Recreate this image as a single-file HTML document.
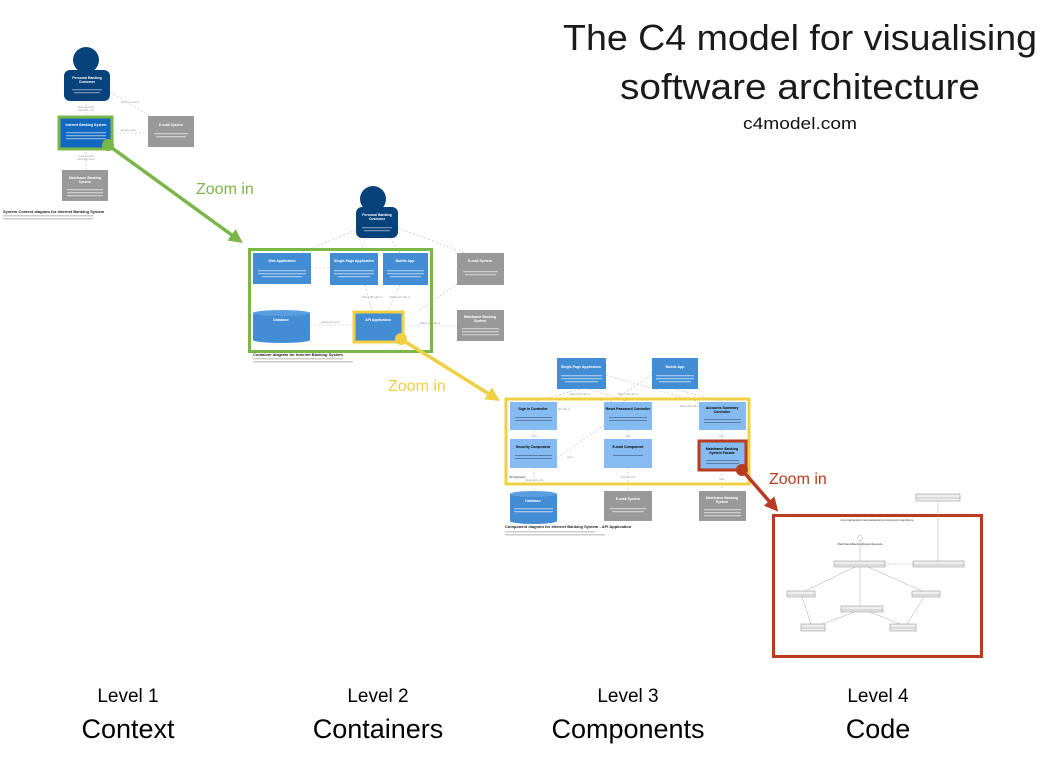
<!DOCTYPE html>
<html><head><meta charset="utf-8"><style>
html,body{margin:0;padding:0;background:#fff;}
svg{display:block;font-family:"Liberation Sans",sans-serif;}
</style></head><body>
<svg width="1061" height="774" viewBox="0 0 1061 774" xmlns="http://www.w3.org/2000/svg">
<defs>
<marker id="ag" markerWidth="4" markerHeight="4" refX="3" refY="2" orient="auto" markerUnits="strokeWidth"><path d="M0,0 L4,2 L0,4 z" fill="#7ab648"/></marker>
<marker id="ay" markerWidth="4" markerHeight="4" refX="3" refY="2" orient="auto" markerUnits="strokeWidth"><path d="M0,0 L4,2 L0,4 z" fill="#f0d043"/></marker>
<marker id="ar" markerWidth="4" markerHeight="4" refX="3" refY="2" orient="auto" markerUnits="strokeWidth"><path d="M0,0 L4,2 L0,4 z" fill="#b83b22"/></marker>
</defs>
<text x="800" y="50" font-size="36" text-anchor="middle" textLength="474" lengthAdjust="spacingAndGlyphs" fill="#1a1a1a">The C4 model for visualising</text>
<text x="800" y="99" font-size="36" text-anchor="middle" textLength="360" lengthAdjust="spacingAndGlyphs" fill="#1a1a1a">software architecture</text>
<text x="800" y="129" font-size="17" text-anchor="middle" textLength="114" lengthAdjust="spacingAndGlyphs" fill="#111">c4model.com</text>

<g stroke="#bbb" stroke-width="0.6" stroke-dasharray="2,2" fill="none">
<line x1="86" y1="100" x2="86" y2="118"/><line x1="110" y1="92" x2="150" y2="116"/><line x1="111" y1="133" x2="148" y2="133"/><line x1="86" y1="148" x2="86" y2="170"/>
<line x1="356" y1="230" x2="300" y2="253"/><line x1="366" y1="238" x2="360" y2="253"/><line x1="390" y1="238" x2="400" y2="253"/><line x1="398" y1="228" x2="465" y2="253"/>
<line x1="311" y1="268" x2="330" y2="268"/><line x1="365" y1="285" x2="372" y2="312"/><line x1="400" y1="285" x2="388" y2="312"/><line x1="310" y1="325" x2="354" y2="325"/><line x1="403" y1="326" x2="457" y2="326"/><line x1="420" y1="310" x2="460" y2="282"/>
<line x1="580" y1="389" x2="534" y2="402"/><line x1="590" y1="389" x2="628" y2="402"/><line x1="606" y1="375" x2="699" y2="402"/><line x1="652" y1="375" x2="610" y2="402"/><line x1="675" y1="389" x2="722" y2="402"/>
<line x1="534" y1="430" x2="534" y2="439"/><line x1="628" y1="430" x2="628" y2="439"/><line x1="722" y1="430" x2="722" y2="441"/><line x1="557" y1="458" x2="604" y2="425"/>
<line x1="534" y1="468" x2="534" y2="491"/><line x1="628" y1="468" x2="628" y2="491"/><line x1="722" y1="470" x2="722" y2="491"/>
</g>
<g fill="#999" font-size="2.5" text-anchor="middle">
<text x="86" y="108">Views account</text><text x="86" y="111">balances, and</text><text x="130" y="103">Sends e-mails to</text><text x="128" y="131">Sends e-mail</text>
<text x="86" y="157">Gets account</text><text x="86" y="160">information from</text>
<text x="295" y="268">Delivers to the</text><text x="372" y="298">Makes API calls to</text><text x="400" y="298">Makes API calls to</text><text x="330" y="323">Reads from and</text><text x="430" y="324">Makes API calls to</text>
<text x="560" y="410">Makes API calls to</text><text x="580" y="395">Makes API calls to</text><text x="628" y="395">Makes API calls to</text><text x="690" y="407">Makes API calls to</text>
<text x="534" y="437">Uses</text><text x="628" y="437">Uses</text><text x="722" y="437">Uses</text><text x="570" y="458">Uses</text><text x="628" y="478">Sends e-mail</text><text x="534" y="481">Reads from and</text><text x="722" y="480">Uses</text>
</g>

<rect x="0" y="0" width="0" height="0"/>
<circle cx="86" cy="60" r="13" fill="#08427b"/>
<rect x="64" y="70" width="46" height="31" rx="6" fill="#08427b"/>
<text x="87" y="79" font-size="3.5" fill="#fff" text-anchor="middle" font-weight="bold">Personal Banking</text>
<text x="87" y="83" font-size="3.5" fill="#fff" text-anchor="middle" font-weight="bold">Customer</text>
<rect x="72" y="89" width="30" height="1.3" fill="#6f8fb5"/><rect x="74" y="92" width="26" height="1.3" fill="#6f8fb5"/>
<rect x="59" y="117" width="53" height="32" fill="#1168bd" stroke="#7ab648" stroke-width="3"/>
<text x="86" y="126" font-size="3.5" fill="#fff" text-anchor="middle" font-weight="bold">Internet Banking System</text>
<rect x="66" y="132" width="40" height="1.3" fill="#7fb0e5"/><rect x="66" y="135" width="40" height="1.3" fill="#7fb0e5"/><rect x="66" y="138" width="40" height="1.3" fill="#7fb0e5"/>
<rect x="148" y="116" width="46" height="31" fill="#999"/>
<text x="171" y="126" font-size="3.5" fill="#fff" text-anchor="middle" font-weight="bold">E-mail System</text>
<rect x="154" y="133" width="34" height="1.3" fill="#ccc"/><rect x="156" y="136" width="30" height="1.3" fill="#ccc"/>
<rect x="62" y="170" width="46" height="31" fill="#999"/>
<text x="85" y="179" font-size="3.5" fill="#fff" text-anchor="middle" font-weight="bold">Mainframe Banking</text>
<text x="85" y="183" font-size="3.5" fill="#fff" text-anchor="middle" font-weight="bold">System</text>
<rect x="67" y="189" width="36" height="1.3" fill="#ccc"/><rect x="67" y="192" width="36" height="1.3" fill="#ccc"/><rect x="67" y="195" width="36" height="1.3" fill="#ccc"/>
<text x="3" y="213" font-size="4" fill="#222" font-weight="bold">System Context diagram for Internet Banking System</text>
<rect x="3" y="215" width="90" height="1.5" fill="#ccc"/><rect x="3" y="218" width="90" height="1.5" fill="#ccc"/>

<circle cx="373" cy="199" r="13" fill="#08427b"/>
<rect x="356" y="207" width="42" height="31" rx="6" fill="#08427b"/>
<text x="377" y="216" font-size="3.5" fill="#fff" text-anchor="middle" font-weight="bold">Personal Banking</text>
<text x="377" y="220" font-size="3.5" fill="#fff" text-anchor="middle" font-weight="bold">Customer</text>
<rect x="362" y="227" width="30" height="1.3" fill="#6f8fb5"/><rect x="364" y="230" width="26" height="1.3" fill="#6f8fb5"/>
<rect x="249.5" y="249.5" width="182" height="102" fill="none" stroke="#7ab648" stroke-width="3"/>
<rect x="253" y="253" width="58" height="31" fill="#438dd5"/>
<rect x="330" y="253" width="48" height="32" fill="#438dd5"/>
<rect x="383" y="253" width="45" height="32" fill="#438dd5"/>
<text x="282" y="262" font-size="3.5" fill="#fff" text-anchor="middle" font-weight="bold">Web Application</text>
<text x="354" y="262" font-size="3.5" fill="#fff" text-anchor="middle" font-weight="bold">Single-Page Application</text>
<text x="405" y="262" font-size="3.5" fill="#fff" text-anchor="middle" font-weight="bold">Mobile App</text>
<g fill="#9cc4ec">
<rect x="258" y="270" width="48" height="1.3"/><rect x="258" y="273" width="48" height="1.3"/><rect x="262" y="276" width="40" height="1.3"/>
<rect x="334" y="270" width="40" height="1.3"/><rect x="334" y="273" width="40" height="1.3"/><rect x="338" y="276" width="32" height="1.3"/>
<rect x="387" y="270" width="37" height="1.3"/><rect x="387" y="273" width="37" height="1.3"/><rect x="390" y="276" width="31" height="1.3"/>
<rect x="258" y="328" width="46" height="1.3"/><rect x="258" y="331" width="46" height="1.3"/><rect x="262" y="334" width="38" height="1.3"/>
<rect x="359" y="329" width="39" height="1.3"/><rect x="359" y="332" width="39" height="1.3"/>
</g>
<rect x="457" y="253" width="47" height="32" fill="#999"/>
<text x="480" y="262" font-size="3.5" fill="#fff" text-anchor="middle" font-weight="bold">E-mail System</text>
<rect x="463" y="271" width="35" height="1.3" fill="#ccc"/><rect x="465" y="274" width="31" height="1.3" fill="#ccc"/>
<rect x="253" y="313" width="57" height="27" fill="#438dd5"/>
<ellipse cx="281.5" cy="313" rx="28.5" ry="3" fill="#5a9de0"/>
<ellipse cx="281.5" cy="340" rx="28.5" ry="3" fill="#438dd5"/>
<text x="281" y="321" font-size="3.5" fill="#fff" text-anchor="middle" font-weight="bold">Database</text>
<rect x="354" y="312" width="49" height="30" fill="#438dd5" stroke="#f0d043" stroke-width="3"/>
<text x="378" y="321" font-size="3.5" fill="#fff" text-anchor="middle" font-weight="bold">API Application</text>
<rect x="457" y="310" width="47" height="31" fill="#999"/>
<text x="480" y="318" font-size="3.5" fill="#fff" text-anchor="middle" font-weight="bold">Mainframe Banking</text>
<text x="480" y="322" font-size="3.5" fill="#fff" text-anchor="middle" font-weight="bold">System</text>
<rect x="462" y="328" width="37" height="1.3" fill="#ccc"/><rect x="462" y="331" width="37" height="1.3" fill="#ccc"/><rect x="462" y="334" width="37" height="1.3" fill="#ccc"/>
<text x="253" y="356" font-size="4" fill="#222" font-weight="bold">Container diagram for Internet Banking System</text>
<rect x="253" y="358" width="90" height="1.5" fill="#ccc"/><rect x="253" y="361" width="100" height="1.5" fill="#ccc"/>

<rect x="557" y="358" width="49" height="31" fill="#438dd5"/>
<rect x="652" y="358" width="46" height="31" fill="#438dd5"/>
<text x="581" y="368" font-size="3.5" fill="#fff" text-anchor="middle" font-weight="bold">Single-Page Application</text>
<text x="675" y="368" font-size="3.5" fill="#fff" text-anchor="middle" font-weight="bold">Mobile App</text>
<g fill="#9cc4ec">
<rect x="561" y="375" width="41" height="1.3"/><rect x="561" y="378" width="41" height="1.3"/><rect x="565" y="381" width="33" height="1.3"/>
<rect x="656" y="375" width="38" height="1.3"/><rect x="656" y="378" width="38" height="1.3"/><rect x="659" y="381" width="32" height="1.3"/>
</g>
<rect x="506" y="399" width="243" height="85" fill="none" stroke="#f0d043" stroke-width="3"/>
<g fill="#85bbf0">
<rect x="510" y="402" width="47" height="28"/><rect x="604" y="402" width="48" height="28"/><rect x="699" y="402" width="47" height="28"/>
<rect x="510" y="439" width="47" height="29"/><rect x="604" y="439" width="48" height="29"/>
</g>
<rect x="699" y="441" width="47" height="29" fill="#85bbf0" stroke="#b83b22" stroke-width="3"/>
<g font-size="3.5" fill="#000" text-anchor="middle" font-weight="bold">
<text x="533" y="410">Sign In Controller</text><text x="628" y="410">Reset Password Controller</text><text x="722" y="409">Accounts Summary</text><text x="722" y="413">Controller</text>
<text x="533" y="448">Security Component</text><text x="628" y="448">E-mail Component</text><text x="722" y="450">Mainframe Banking</text><text x="722" y="454">System Facade</text>
</g>
<g fill="#5a7fa8">
<rect x="515" y="417" width="37" height="1"/><rect x="515" y="420" width="37" height="1"/>
<rect x="609" y="417" width="38" height="1"/><rect x="609" y="420" width="38" height="1"/>
<rect x="704" y="419" width="37" height="1"/><rect x="704" y="422" width="37" height="1"/>
<rect x="515" y="455" width="37" height="1"/><rect x="515" y="458" width="37" height="1"/>
<rect x="613" y="455" width="30" height="1"/>
<rect x="706" y="460" width="33" height="1"/><rect x="706" y="463" width="33" height="1"/>
</g>
<text x="509" y="478" font-size="2.5" fill="#333">API Application</text>
<rect x="510" y="494" width="47" height="27" fill="#438dd5"/>
<ellipse cx="533.5" cy="494" rx="23.5" ry="3" fill="#5a9de0"/>
<ellipse cx="533.5" cy="521" rx="23.5" ry="3" fill="#438dd5"/>
<text x="533" y="502" font-size="3.5" fill="#fff" text-anchor="middle" font-weight="bold">Database</text>
<rect x="514" y="508" width="39" height="1.3" fill="#9cc4ec"/><rect x="514" y="511" width="39" height="1.3" fill="#9cc4ec"/>
<rect x="604" y="491" width="48" height="30" fill="#999"/>
<rect x="699" y="491" width="47" height="30" fill="#999"/>
<text x="628" y="500" font-size="3.5" fill="#fff" text-anchor="middle" font-weight="bold">E-mail System</text>
<text x="722" y="499" font-size="3.5" fill="#fff" text-anchor="middle" font-weight="bold">Mainframe Banking</text>
<text x="722" y="503" font-size="3.5" fill="#fff" text-anchor="middle" font-weight="bold">System</text>
<rect x="610" y="508" width="36" height="1.3" fill="#ccc"/><rect x="612" y="511" width="32" height="1.3" fill="#ccc"/>
<rect x="704" y="509" width="37" height="1.3" fill="#ccc"/><rect x="704" y="512" width="37" height="1.3" fill="#ccc"/><rect x="704" y="515" width="37" height="1.3" fill="#ccc"/>
<text x="505" y="528" font-size="4" fill="#222" font-weight="bold">Component diagram for Internet Banking System - API Application</text>
<rect x="505" y="531" width="90" height="1.5" fill="#ccc"/><rect x="505" y="534" width="100" height="1.5" fill="#ccc"/>

<rect x="773.5" y="515.5" width="208" height="141" fill="#fff" stroke="#b83b22" stroke-width="3"/>
<g stroke="#aaa" stroke-width="0.5" fill="none">
<line x1="938" y1="501" x2="938" y2="561"/><line x1="860" y1="540" x2="860" y2="606"/>
<line x1="855" y1="567" x2="805" y2="591"/><line x1="868" y1="567" x2="922" y2="591"/>
<line x1="885" y1="564" x2="913" y2="564" stroke-dasharray="2,1"/>
<line x1="802" y1="597" x2="811" y2="624"/><line x1="924" y1="597" x2="907" y2="624"/>
<line x1="855" y1="612" x2="822" y2="624"/><line x1="870" y1="612" x2="900" y2="624"/>
<circle cx="860" cy="538" r="2.5" fill="#fff"/>
</g>
<g fill="#eee" stroke="#888" stroke-width="0.5">
<rect x="916" y="494" width="44" height="7"/>
<rect x="834" y="561" width="51" height="6"/>
<rect x="913" y="561" width="51" height="6"/>
<rect x="787" y="591" width="28" height="6"/>
<rect x="912" y="591" width="28" height="6"/>
<rect x="841" y="606" width="42" height="6"/>
<rect x="801" y="624" width="24" height="7"/>
<rect x="890" y="624" width="26" height="7"/>
</g>
<g stroke="#888" stroke-width="0.4">
<line x1="916" y1="498" x2="960" y2="498"/><line x1="834" y1="565" x2="885" y2="565"/><line x1="913" y1="565" x2="964" y2="565"/>
<line x1="787" y1="595" x2="815" y2="595"/><line x1="912" y1="595" x2="940" y2="595"/><line x1="841" y1="610" x2="883" y2="610"/>
<line x1="801" y1="628" x2="825" y2="628"/><line x1="890" y1="628" x2="916" y2="628"/>
</g>
<text x="877" y="521" font-size="3" fill="#333" text-anchor="middle">com.bigbankplc.internetbanking.component.mainframe</text>
<text x="860" y="545" font-size="3" fill="#333" text-anchor="middle">MainframeBankingSystemFacade</text>

<line x1="108" y1="145" x2="240" y2="241" stroke="#7ab648" stroke-width="3.5" marker-end="url(#ag)"/>
<circle cx="108" cy="145" r="6" fill="#7ab648"/>
<text x="196" y="194" font-size="16" fill="#7ab648">Zoom in</text>
<line x1="401" y1="339" x2="497" y2="399" stroke="#f0d043" stroke-width="3.5" marker-end="url(#ay)"/>
<circle cx="401" cy="339" r="6" fill="#f0d043"/>
<text x="388" y="391" font-size="16" fill="#f0d043">Zoom in</text>
<line x1="742" y1="470" x2="776" y2="509" stroke="#b83b22" stroke-width="3.5" marker-end="url(#ar)"/>
<circle cx="742" cy="470" r="6" fill="#b83b22"/>
<text x="769" y="484" font-size="16" fill="#b83b22">Zoom in</text>

<g fill="#000" text-anchor="middle">
<text x="128" y="702" font-size="19">Level 1</text><text x="128" y="738" font-size="27">Context</text>
<text x="378" y="702" font-size="19">Level 2</text><text x="378" y="738" font-size="27">Containers</text>
<text x="628" y="702" font-size="19">Level 3</text><text x="628" y="738" font-size="27">Components</text>
<text x="878" y="702" font-size="19">Level 4</text><text x="878" y="738" font-size="27">Code</text>
</g>
</svg>
</body></html>
